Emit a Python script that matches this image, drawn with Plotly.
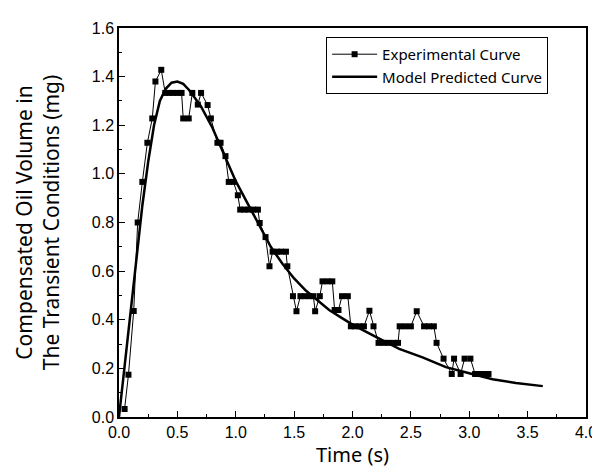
import plotly.graph_objects as go

exp_t = [0.048, 0.081, 0.126, 0.16, 0.20, 0.243, 0.285, 0.312, 0.362, 0.396, 0.43, 0.465, 0.50, 0.536,
         0.55, 0.597, 0.628, 0.675, 0.703, 0.759, 0.787, 0.843, 0.87, 0.912, 0.94, 0.98, 1.018,
         1.038, 1.075, 1.11, 1.15, 1.19, 1.205, 1.255, 1.289, 1.316, 1.355, 1.39, 1.43, 1.442,
         1.49, 1.52, 1.554, 1.59, 1.63, 1.665, 1.68, 1.72, 1.743, 1.785, 1.827, 1.847, 1.88,
         1.91, 1.96, 1.986, 2.02, 2.06, 2.098, 2.145, 2.18, 2.223, 2.265, 2.305, 2.35, 2.39,
         2.404, 2.45, 2.50, 2.55, 2.613, 2.655, 2.697, 2.72, 2.78, 2.85, 2.87, 2.926, 2.96,
         3.01, 3.05, 3.09, 3.13, 3.165]
exp_v = [0.033, 0.174, 0.436, 0.80, 0.967, 1.128, 1.228, 1.38, 1.428, 1.333, 1.333, 1.333, 1.333, 1.333,
         1.228, 1.228, 1.333, 1.285, 1.333, 1.283, 1.228, 1.128, 1.128, 1.073, 0.967, 0.967, 0.912,
         0.853, 0.853, 0.853, 0.853, 0.853, 0.798, 0.74, 0.62, 0.68, 0.68, 0.68, 0.68, 0.62,
         0.497, 0.435, 0.497, 0.497, 0.497, 0.497, 0.435, 0.497, 0.558, 0.558, 0.558, 0.44, 0.44,
         0.497, 0.497, 0.373, 0.373, 0.373, 0.373, 0.437, 0.373, 0.305, 0.305, 0.305, 0.305, 0.305,
         0.373, 0.373, 0.373, 0.435, 0.373, 0.373, 0.373, 0.305, 0.24, 0.177, 0.24, 0.177, 0.24,
         0.24, 0.177, 0.177, 0.177, 0.177]

model_t = [0, 0.05, 0.1, 0.15, 0.2, 0.25, 0.3, 0.35, 0.4, 0.45, 0.5, 0.55, 0.6, 0.7, 0.8, 0.9,
           1.0, 1.1, 1.2, 1.3, 1.4, 1.5, 1.6, 1.7, 1.8, 1.9, 2.0, 2.2, 2.4, 2.6, 2.8, 3.0, 3.2,
           3.4, 3.63]
model_v = [0, 0.22, 0.44, 0.66, 0.87, 1.05, 1.2, 1.3, 1.35, 1.375, 1.38, 1.37, 1.345, 1.28, 1.19,
           1.08, 0.97, 0.88, 0.79, 0.70, 0.63, 0.57, 0.52, 0.48, 0.44, 0.41, 0.38, 0.33, 0.28,
           0.245, 0.205, 0.18, 0.155, 0.14, 0.127]

fig = go.Figure()
fig.add_trace(go.Scatter(x=exp_t, y=exp_v, mode="lines+markers", name="Experimental Curve",
                         line=dict(color="black", width=1),
                         marker=dict(symbol="square", size=6, color="black")))
fig.add_trace(go.Scatter(x=model_t, y=model_v, mode="lines", name="Model Predicted Curve",
                         line=dict(color="black", width=2.5)))

tickfont = dict(family="Liberation Sans, Arial", size=16, color="black")
fig.update_layout(
    width=600, height=468,
    margin=dict(l=111, r=11, t=20, b=59),
    paper_bgcolor="white", plot_bgcolor="white",
    showlegend=True,
    legend=dict(x=0.4435, y=0.977, xanchor="left", yanchor="top",
                bordercolor="black", borderwidth=1, bgcolor="white",
                font=dict(family="Noto Sans", size=15, color="black"),
                tracegroupgap=0, itemwidth=45),
    xaxis=dict(range=[0, 4.0], dtick=0.5, tickformat=".1f", ticks="inside", ticklen=6,
               tickcolor="black", showline=True, linecolor="black", linewidth=1.5, mirror=True,
               showgrid=False, zeroline=False, tickfont=tickfont,
               minor=dict(dtick=0.25, ticks="inside", ticklen=3, tickcolor="black"),
               title=dict(text="Time (s)", font=dict(family="Noto Sans", size=20, color="black"),
                          standoff=7)),
    yaxis=dict(range=[0, 1.6], dtick=0.2, tickformat=".1f", ticks="inside", ticklen=6,
               tickcolor="black", showline=True, linecolor="black", linewidth=1.5, mirror=True,
               showgrid=False, zeroline=False, tickfont=tickfont,
               minor=dict(dtick=0.1, ticks="inside", ticklen=3, tickcolor="black"),
               title=dict(text="Compensated Oil Volume in<br>The Transient Conditions (mg)",
                          font=dict(family="Noto Sans", size=21, color="black"),
                          standoff=26)),
)

fig.write_html("out.html")
